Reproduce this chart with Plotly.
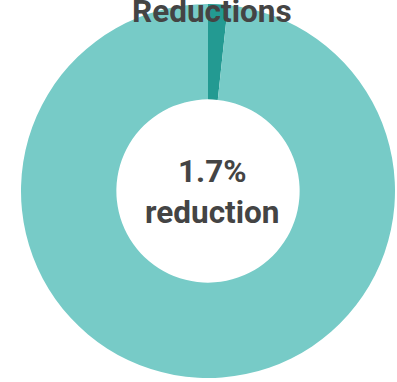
import plotly.graph_objects as go

# Share of the total that the reductions account for
labels = ["Reduction", "Remaining"]
values = [1.7, 98.3]
colors = ["#239a92", "#77cbc7"]

title_text = "Reductions"
center_text = "1.7%<br>reduction"

fig = go.Figure(
    go.Pie(
        labels=labels,
        values=values,
        hole=0.49,
        sort=False,
        direction="clockwise",
        rotation=0,
        marker=dict(colors=colors, line=dict(width=0)),
        textinfo="none",
        hoverinfo="label+percent",
        showlegend=False,
        domain=dict(x=[0, 1], y=[0, 1]),
    )
)

fig.add_annotation(
    text=title_text,
    xref="paper", yref="paper",
    x=0.51, y=1.0,
    xanchor="center", yanchor="middle",
    yshift=-7,
    showarrow=False,
    font=dict(family="Roboto", size=31.5, color="#444444", weight="bold"),
)

fig.add_annotation(
    text=center_text,
    xref="paper", yref="paper",
    x=0.511, y=0.5,
    xanchor="center", yanchor="middle",
    yshift=-1,
    showarrow=False,
    font=dict(family="Roboto", size=31.5, color="#444444", weight="bold"),
)

fig.update_layout(
    width=397,
    height=382,
    margin=dict(l=21, r=2, t=4, b=4),
    paper_bgcolor="white",
    plot_bgcolor="white",
)

fig.write_html("out.html")
